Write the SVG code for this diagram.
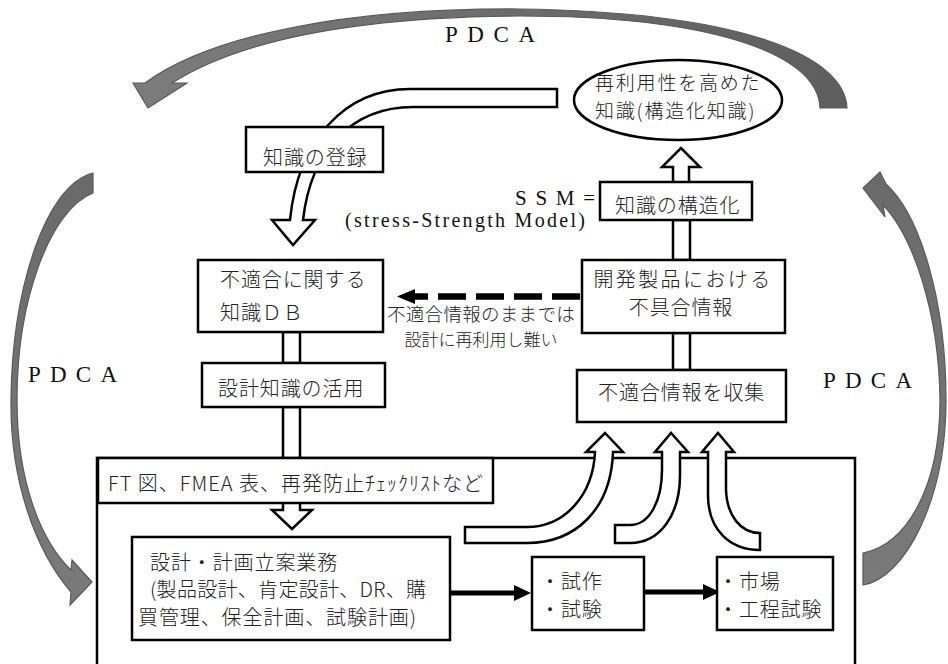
<svg xmlns="http://www.w3.org/2000/svg" width="948" height="664" viewBox="0 0 948 664">
<defs>
<style>
.box{fill:#fff;stroke:#000;stroke-width:2.5}
.hol{fill:#fff;stroke:#000;stroke-width:2.5;stroke-linejoin:miter}
.t{font-family:"Noto Sans CJK JP","Noto Sans CJK SC",sans-serif;font-size:20px;font-weight:300;fill:#222;letter-spacing:0.9px}
.s{font-family:"Liberation Serif","DejaVu Serif",serif;fill:#111}
.arc{stroke:#5a5a5a;stroke-width:1.2}
</style>
<linearGradient id="gTop" x1="0" y1="0" x2="1" y2="0">
<stop offset="0" stop-color="#7c7c7c"/>
<stop offset="1" stop-color="#5e5e5e"/>
</linearGradient>
<linearGradient id="gSide" x1="0" y1="0" x2="0" y2="1">
<stop offset="0" stop-color="#6a6a6a"/>
<stop offset="1" stop-color="#7a7a7a"/>
</linearGradient>
</defs>
<rect width="948" height="664" fill="#fff"/>

<g id="outer-frame">
<rect x="97" y="458" width="758" height="230" fill="#fff" stroke="#000" stroke-width="2.5"/>
</g>

<g id="connectors">
<path class="arc" fill="url(#gTop)" d="M847,108 C845,55 740,12 520,9 C350,8 212,34 145,83 L133,83 L148,108 L187,83 L172,83 C232,45 340,17 520,16 C700,16 818,50 820,108 Z"/>
<path class="arc" fill="url(#gSide)" d="M93,173 C45,185 12,290 11,400 C10,480 35,550 71,592 L70,605 L92,582 L72,560 L71,570 C40,540 17,480 17,400 C17,300 50,210 93,193 Z"/>
<path class="arc" fill="url(#gSide)" d="M863,585 C905,578 946,500 946,400 C946,300 920,215 886,184 L880,172 L863,188 L885,217 L883,205 C912,235 939,310 940,400 C940,490 905,545 863,553 Z"/>

<path class="hol" d="M557,89 L410,89 C345,89 298,140 290,220 L272,220 L293,245 L315,220 L303,220 C311,150 352,107 413,107 L557,107 Z"/>
<rect class="hol" x="283" y="332" width="17" height="31"/>
<rect class="hol" x="283" y="407" width="17" height="51"/>
<path class="hol" d="M283,503 L283,510 L272,510 L292,529 L312,510 L300,510 L300,503"/>
<rect class="hol" x="673" y="333" width="17" height="37"/>
<rect class="hol" x="673" y="220" width="17" height="40"/>
<path class="hol" d="M673,182 L673,167 L662,167 L681,148 L700,167 L689,167 L689,182"/>
<path class="hol" d="M465,527 L527,527 C565,527 593,495 595,452 L586,452 L605,433 L623,452 L613,452 C611,510 575,543 527,543 L465,543 Z"/>
<path class="hol" d="M615,525 L630,525 C650,525 662,500 662,470 L662,452 L655,452 L671,433 L688,452 L680,452 L680,475 C680,515 660,543 630,543 L615,543 Z"/>
<path class="hol" d="M708,452 L708,495 C708,530 730,550 760,550 L760,533 C740,533 727,515 726,490 L726,452 L734,452 L718,433 L702,452 Z"/>

<line x1="580" y1="296.5" x2="415" y2="296.5" stroke="#000" stroke-width="6.5" stroke-dasharray="28 10"/>
<polygon points="397,296.5 415,289 415,304" fill="#000"/>

<line x1="451" y1="593" x2="516" y2="593" stroke="#000" stroke-width="5"/>
<polygon points="531,593 514,585 514,601" fill="#000"/>
<line x1="645" y1="592" x2="705" y2="592" stroke="#000" stroke-width="5"/>
<polygon points="720,592 703,584 703,600" fill="#000"/>
</g>

<g id="label-pdca">
<text class="s" x="445" y="42" font-size="23" textLength="90" lengthAdjust="spacing">PDCA</text>
<text class="s" x="28" y="382" font-size="23" textLength="89" lengthAdjust="spacing">PDCA</text>
<text class="s" x="823" y="388" font-size="23" textLength="89" lengthAdjust="spacing">PDCA</text>
</g>

<g id="label-ssm">
<text class="s" x="515" y="205" font-size="21" textLength="80" lengthAdjust="spacing">SSM=</text>
<text class="s" x="345" y="227" font-size="20" textLength="240" lengthAdjust="spacing">(stress-Strength Model)</text>
</g>

<g id="label-dashed">
<text class="t" x="481" y="321" text-anchor="middle" style="font-size:18.5px;letter-spacing:0.3px">不適合情報のままでは</text>
<text class="t" x="481" y="346" text-anchor="middle" style="font-size:17px;letter-spacing:0">設計に再利用し難い</text>
</g>

<g id="n-knowledge">
<ellipse cx="678" cy="100" rx="104" ry="40" fill="#fff" stroke="#000" stroke-width="2.5"/>
<text class="t" x="595" y="90" style="font-size:19px;letter-spacing:1.8px">再利用性を高めた</text>
<text class="t" x="595" y="118" style="font-size:19px;letter-spacing:1.8px">知識(構造化知識)</text>
</g>

<g id="n-register">
<rect class="box" x="246" y="127" width="137" height="45"/>
<text class="t" x="263" y="165">知識の登録</text>
</g>

<g id="n-db">
<rect class="box" x="198" y="260" width="185" height="72"/>
<text class="t" x="220" y="287">不適合に関する</text>
<text class="t" x="220" y="320">知識ＤＢ</text>
</g>

<g id="n-use">
<rect class="box" x="202" y="363" width="183" height="44"/>
<text class="t" x="218" y="396">設計知識の活用</text>
</g>

<g id="n-ft">
<rect class="box" x="98" y="458" width="395" height="45"/>
<text class="t" x="108" y="491" textLength="375" lengthAdjust="spacing" style="letter-spacing:0">FT 図、FMEA 表、再発防止ﾁｪｯｸﾘｽﾄなど</text>
</g>

<g id="n-design">
<rect class="box" x="132" y="537" width="318" height="103"/>
<text class="t" x="150" y="570">設計・計画立案業務</text>
<text class="t" x="150" y="597" style="letter-spacing:0.3px">(製品設計、肯定設計、DR、購</text>
<text class="t" x="138" y="625">買管理、保全計画、試験計画)</text>
</g>

<g id="n-proto">
<rect class="box" x="532" y="557" width="112" height="73"/>
<text class="t" x="540" y="589">・試作</text>
<text class="t" x="540" y="617">・試験</text>
</g>

<g id="n-market">
<rect class="box" x="717" y="557" width="116" height="73"/>
<text class="t" x="718" y="589">・市場</text>
<text class="t" x="718" y="617">・工程試験</text>
</g>

<g id="n-collect">
<rect class="box" x="577" y="370" width="209" height="52"/>
<text class="t" x="598" y="400">不適合情報を収集</text>
</g>

<g id="n-defect">
<rect class="box" x="582" y="260" width="203" height="73"/>
<text class="t" x="683" y="287" text-anchor="middle" style="letter-spacing:2.4px">開発製品における</text>
<text class="t" x="681" y="315" text-anchor="middle">不具合情報</text>
</g>

<g id="n-struct">
<rect class="box" x="600" y="182" width="152" height="38"/>
<text class="t" x="615" y="213">知識の構造化</text>
</g>
</svg>
